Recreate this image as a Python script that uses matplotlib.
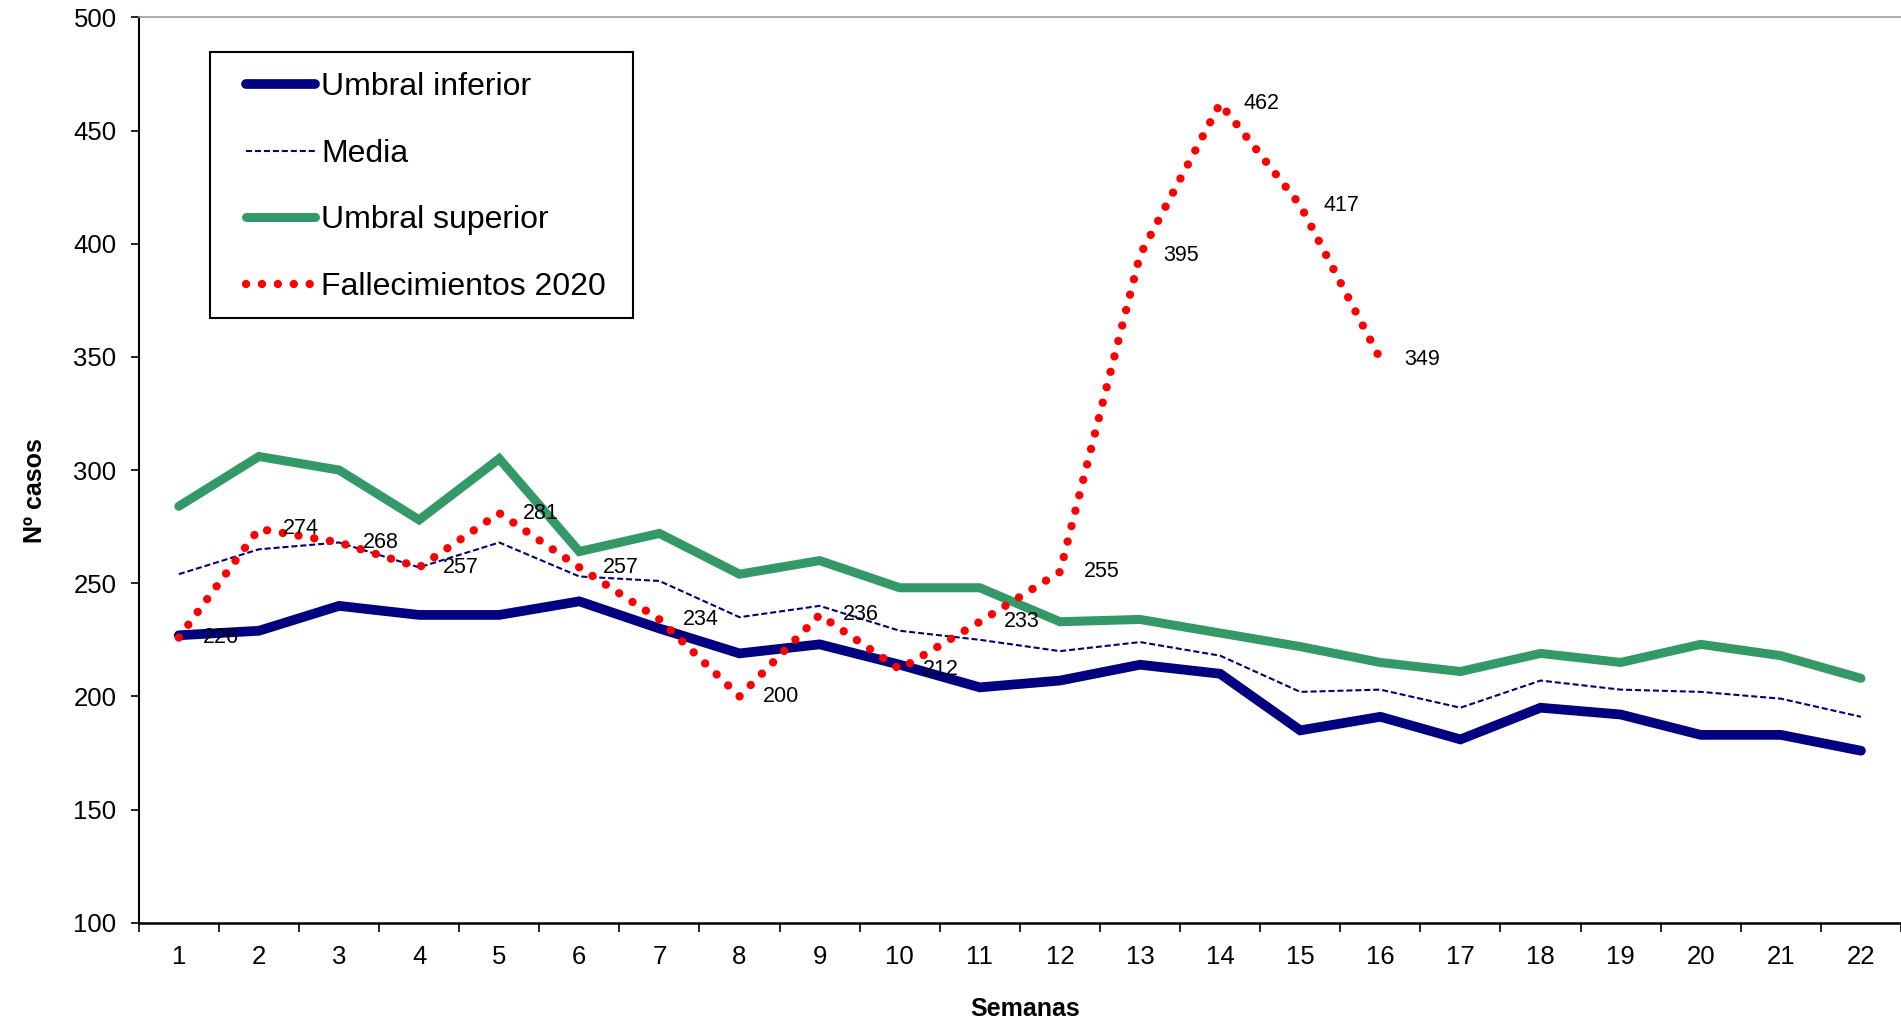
import matplotlib
matplotlib.use("Agg")
import matplotlib.pyplot as plt
from matplotlib.patches import Rectangle
import numpy as np

plt.rcParams['font.family'] = ['Liberation Sans', 'DejaVu Sans']

semanas = list(range(1, 23))
umbral_inferior = [227, 229, 240, 236, 236, 242, 230, 219, 223, 214, 204, 207,
                   214, 210, 185, 191, 181, 195, 192, 183, 183, 176]
media = [254, 265, 268, 257, 268, 253, 251, 235, 240, 229, 225, 220,
         224, 218, 202, 203, 195, 207, 203, 202, 199, 191]
umbral_superior = [284, 306, 300, 278, 305, 264, 272, 254, 260, 248, 248, 233,
                   234, 228, 222, 215, 211, 219, 215, 223, 218, 208]
fallecimientos = [226, 274, 268, 257, 281, 257, 234, 200, 236, 212, 233, 255,
                  395, 462, 417, 349]

W, H = 1901, 1023
fig = plt.figure(figsize=(W / 100, H / 100), dpi=100)
ax = fig.add_axes([0.073, 0.098, 0.927, 0.885])

ax.plot(semanas, umbral_inferior, color='#000080', linewidth=7,
        solid_joinstyle='miter', solid_capstyle='round', label='Umbral inferior')
ax.plot(semanas, media, color='#000080', linewidth=1.5,
        linestyle=(0, (2.9, 1.4)), label='Media')
ax.plot(semanas, umbral_superior, color='#339966', linewidth=6.5,
        solid_joinstyle='miter', solid_capstyle='round', label='Umbral superior')
x_f = semanas[:len(fallecimientos)]
ax.plot(x_f, fallecimientos, color='#ff0000', linewidth=6,
        linestyle=(0, (0.01, 1.9)), dash_capstyle='round',
        label='Fallecimientos 2020')

for x, v in zip(x_f, fallecimientos):
    ax.annotate(str(v), (x, v), xytext=(17, 0), textcoords='offset points',
                va='center', ha='left', fontsize=15.5)

ax.set_xlim(0.5, 22.5)
ax.set_ylim(100, 500)
ax.set_yticks(np.arange(100, 501, 50))
ax.set_xticks(semanas)
ax.set_xticks(np.arange(0.5, 22.6, 1), minor=True)
ax.tick_params(axis='x', which='major', length=0, pad=16, labelsize=18.5)
ax.tick_params(axis='x', which='minor', length=6.5, width=1.2, direction='out')
ax.tick_params(axis='y', length=6, width=1.2, direction='out', pad=10, labelsize=18.5)

ax.spines['right'].set_visible(False)
ax.spines['top'].set_color('#a0a0a0')
ax.spines['top'].set_linewidth(1.2)
ax.spines['left'].set_linewidth(1.5)
ax.spines['bottom'].set_linewidth(1.8)

ax.set_xlabel('Semanas', fontsize=18, fontweight='bold')
ax.xaxis.set_label_coords(0.503, -0.082)
ax.set_ylabel('Nº casos', fontsize=18, fontweight='bold')
ax.yaxis.set_label_coords(-0.052, 0.477)

# legend frame drawn separately so the padding matches
frame = Rectangle((210 / W, 1 - 318 / H), 423 / W, 266 / H, transform=fig.transFigure,
                  facecolor='white', edgecolor='black', linewidth=1.5,
                  clip_on=False, zorder=4)
ax.add_patch(frame)
leg = ax.legend(loc='upper left', bbox_to_anchor=(246 / W, 1 - 72 / H),
                bbox_transform=fig.transFigure, fontsize=23, frameon=False,
                handlelength=2.15, handletextpad=0.2, labelspacing=1.15,
                borderpad=0, borderaxespad=0)
leg.set_zorder(5)

fig.savefig('out.png', dpi=100)
plt.close()
